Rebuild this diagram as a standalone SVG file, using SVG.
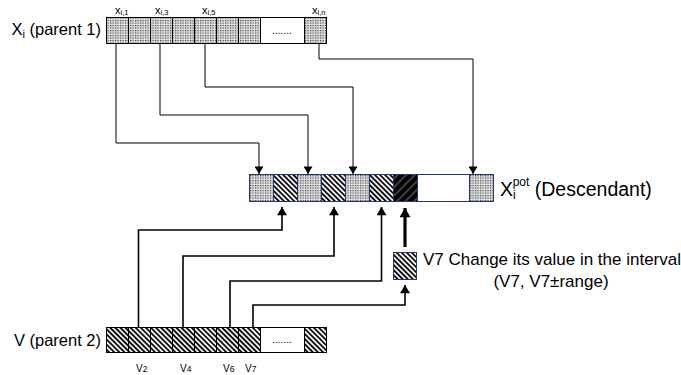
<svg xmlns="http://www.w3.org/2000/svg" width="681" height="375" viewBox="0 0 681 375">
<defs>
<pattern id="dots" width="2.5" height="2.5" patternUnits="userSpaceOnUse"><rect width="2.5" height="2.5" fill="#e0e0e0"/><rect width="1.2" height="1.2" fill="#444"/></pattern>
<pattern id="hatch" width="3.6" height="3.6" patternUnits="userSpaceOnUse" patternTransform="rotate(-45)"><rect width="3.6" height="3.6" fill="#fff"/><line x1="1" y1="0" x2="1" y2="3.6" stroke="#000" stroke-width="1.8"/></pattern>
<pattern id="dark" width="6" height="6" patternUnits="userSpaceOnUse" patternTransform="rotate(45)"><rect width="6" height="6" fill="#000"/><line x1="3" y1="0" x2="3" y2="6" stroke="#9a9a9a" stroke-width="0.8"/></pattern>
<marker id="ah" viewBox="0 0 10 12" refX="10" refY="6" markerWidth="12" markerHeight="9" markerUnits="userSpaceOnUse" orient="auto"><path d="M0,0 L10,6 L0,12 Z" fill="#000"/></marker>
<marker id="ah2" viewBox="0 0 10 12" refX="10" refY="6" markerWidth="12" markerHeight="10" markerUnits="userSpaceOnUse" orient="auto"><path d="M0,0 L10,6 L0,12 Z" fill="#000"/></marker>
<marker id="ah3" viewBox="0 0 10 12" refX="10" refY="6" markerWidth="13" markerHeight="11" markerUnits="userSpaceOnUse" orient="auto"><path d="M0,0 L10,6 L0,12 Z" fill="#000"/></marker>
</defs>
<style>
text{font-family:"Liberation Sans",Arial,sans-serif;fill:#000}
.c{stroke:#000;stroke-width:1}
.cb{stroke:#1f3a68;stroke-width:1}
.d{fill:url(#dots)}
.h{fill:url(#hatch)}
.k{fill:url(#dark)}
.w{fill:#fff}
.thin{fill:none;stroke:#000;stroke-width:1;marker-end:url(#ah)}
.med{fill:none;stroke:#000;stroke-width:1.6;marker-end:url(#ah2)}
.thick{fill:none;stroke:#000;stroke-width:3.2;marker-end:url(#ah3)}
.lbl{font-size:16.5px}
.big{font-size:17px}
</style>

<g id="parent1">
<text class="lbl" x="101" y="35" text-anchor="end">X<tspan font-size="11" dy="3">i</tspan><tspan dy="-3"> (parent 1)</tspan></text>
<rect class="c d" x="106.5" y="17.5" width="22" height="26"/>
<rect class="c d" x="128.5" y="17.5" width="22" height="26"/>
<rect class="c d" x="150.5" y="17.5" width="22" height="26"/>
<rect class="c d" x="172.5" y="17.5" width="22" height="26"/>
<rect class="c d" x="194.5" y="17.5" width="22" height="26"/>
<rect class="c d" x="216.5" y="17.5" width="22" height="26"/>
<rect class="c d" x="238.5" y="17.5" width="22" height="26"/>
<rect class="c w" x="260.5" y="17.5" width="44" height="26"/>
<rect class="c d" x="304.5" y="17.5" width="22" height="26"/>
<text x="282" y="34" font-size="10" text-anchor="middle">.......</text>
<text x="115" y="14"><tspan font-size="11">x</tspan><tspan font-size="7.5" dy="1">i,1</tspan></text>
<text x="155" y="14"><tspan font-size="11">x</tspan><tspan font-size="7.5" dy="1">i,3</tspan></text>
<text x="202" y="14"><tspan font-size="11">x</tspan><tspan font-size="7.5" dy="1">i,5</tspan></text>
<text x="312" y="14"><tspan font-size="11">x</tspan><tspan font-size="7.5" dy="1">i,n</tspan></text>
</g>

<g id="descendant">
<rect class="cb d" x="249.5" y="174.5" width="24" height="27"/>
<rect class="cb h" x="273.5" y="174.5" width="24" height="27"/>
<rect class="cb d" x="297.5" y="174.5" width="24" height="27"/>
<rect class="cb h" x="321.5" y="174.5" width="24" height="27"/>
<rect class="cb d" x="345.5" y="174.5" width="24" height="27"/>
<rect class="cb h" x="369.5" y="174.5" width="24" height="27"/>
<rect class="cb k" x="393.5" y="174.5" width="24" height="27"/>
<rect class="cb w" x="417.5" y="174.5" width="52" height="27"/>
<rect class="cb d" x="469.5" y="174.5" width="24" height="27"/>
<text x="500" y="196" font-size="19.5">X<tspan font-size="12" dy="3">i</tspan><tspan font-size="12" dx="-3" dy="-13">pot</tspan><tspan dy="10"> (Descendant)</tspan></text>
</g>

<g id="parent2">
<text class="lbl" x="101" y="346" text-anchor="end">V (parent 2)</text>
<rect class="c h" x="106.5" y="327.5" width="22" height="25"/>
<rect class="c h" x="128.5" y="327.5" width="22" height="25"/>
<rect class="c h" x="150.5" y="327.5" width="22" height="25"/>
<rect class="c h" x="172.5" y="327.5" width="22" height="25"/>
<rect class="c h" x="194.5" y="327.5" width="22" height="25"/>
<rect class="c h" x="216.5" y="327.5" width="22" height="25"/>
<rect class="c h" x="238.5" y="327.5" width="22" height="25"/>
<rect class="c w" x="260.5" y="327.5" width="44" height="25"/>
<rect class="c h" x="304.5" y="327.5" width="22" height="25"/>
<text x="282" y="343" font-size="10" text-anchor="middle">.......</text>
<text x="136" y="372"><tspan font-size="10">V</tspan><tspan font-size="8.5">2</tspan></text>
<text x="180" y="372"><tspan font-size="10">V</tspan><tspan font-size="8.5">4</tspan></text>
<text x="223" y="372"><tspan font-size="10">V</tspan><tspan font-size="8.5">6</tspan></text>
<text x="245" y="372"><tspan font-size="10">V</tspan><tspan font-size="8.5">7</tspan></text>
</g>

<g id="v7box">
<rect class="cb h" x="393.5" y="252.5" width="23" height="27"/>
<text class="big" x="423" y="265">V7 Change its value in the interval</text>
<text class="big" x="551" y="287" text-anchor="middle">(V7, V7±range)</text>
</g>

<g id="connectors">
<path class="thin" d="M116,44 V143 H259 V174"/>
<path class="thin" d="M160,44 V115 H308 V174"/>
<path class="thin" d="M205,44 V87 H353 V174"/>
<path class="thin" d="M319,44 V59 H473 V174"/>
<path class="med" d="M138.5,327 V230 H282 V207"/>
<path class="med" d="M183,327 V256 H334 V207"/>
<path class="med" d="M230,327 V281 H381.5 V207"/>
<path class="med" d="M253,327 V305 H405 V285"/>
<path class="thick" d="M405,247 V208"/>
</g>
</svg>
